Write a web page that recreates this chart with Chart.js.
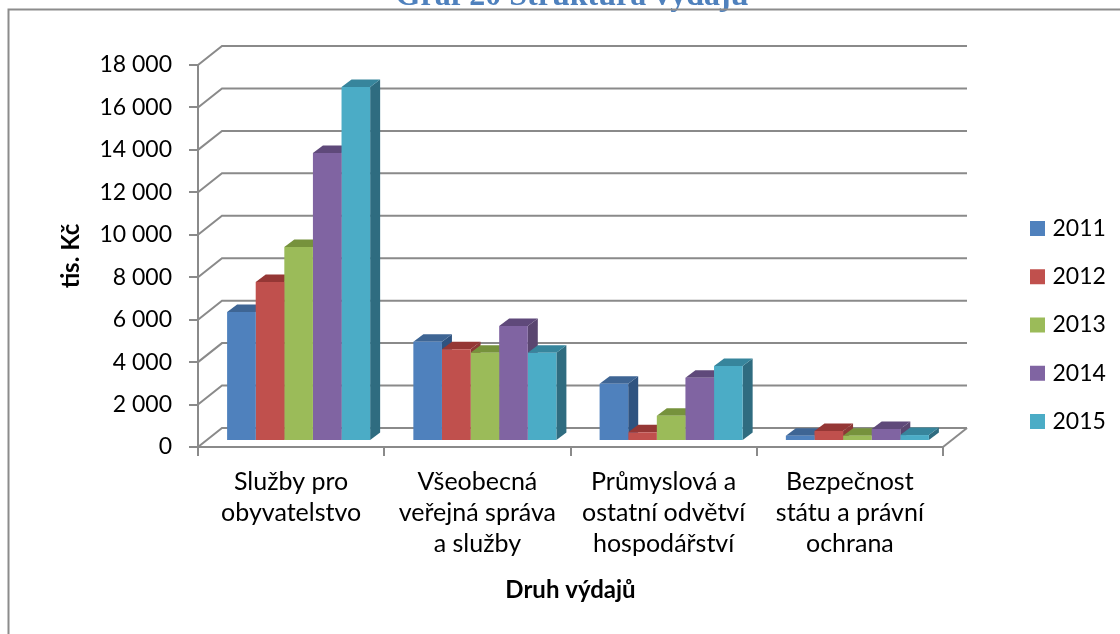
<!DOCTYPE html>
<html lang="cs">
<head>
<meta charset="utf-8">
<title>Graf 20 Struktura výdajů</title>
<script src="https://cdn.jsdelivr.net/npm/chart.js@4"></script>
<style>
html,body{margin:0;padding:0;background:#fff;overflow:hidden}
canvas{display:block}
</style>
</head>
<body>
<canvas id="c" width="1120" height="634"></canvas>
<script>
const categories = [
  ['Služby pro', 'obyvatelstvo'],
  ['Všeobecná', 'veřejná správa', 'a služby'],
  ['Průmyslová a', 'ostatní odvětví', 'hospodářství'],
  ['Bezpečnost', 'státu a právní', 'ochrana']
];
const years = ['2011', '2012', '2013', '2014', '2015'];
const values2011 = [6080, 4680, 2700, 250];
const values2012 = [7490, 4320, 410, 470];
const values2013 = [9140, 4160, 1190, 250];
const values2014 = [13570, 5420, 2980, 565];
const values2015 = [16680, 4160, 3530, 280];
const frontColors = ['#4F81BD', '#C0504D', '#9BBB59', '#8064A2', '#4BACC6'];
const sideColors = ['#2F5380', '#8C3836', '#6F8840', '#5A4670', '#2F6C80'];
const topColors = ['#3E6594', '#953735', '#76923C', '#5F497A', '#37859C'];

const FONT = 'Lato, "Open Sans", sans-serif';
const GRID = '#8a8a8a';
const series = [values2011, values2012, values2013, values2014, values2015];

const wall = {dx: 24, dy: -19};
const barShift = {dx: 7.5, dy: -6};
const barDepth = {dx: 10, dy: -7.5};

const box3d = {
  id: 'box3d',
  beforeLayout(chart) {
    const l = chart.legend;
    if (!l._fitWrapped) {
      const fit = l.fit;
      l.fit = function () { fit.call(this); this.width = 177; };
      l._fitWrapped = true;
    }
  },
  afterLayout(chart) {
    const l = chart.legend;
    l.left = 1034 - 25.25; l.right = l.left + 177;
    l.top += 8; l.bottom += 8;
    const t = chart.titleBlock;
    t.top = -19; t.left = 12; t.right = 1132;
  },
  beforeDatasetsDraw(chart) {
    const {ctx, scales: {x, y}} = chart;
    const L = x.left, R = x.right;
    ctx.save();
    ctx.strokeStyle = GRID;
    ctx.lineWidth = 2;
    y.ticks.forEach(t => {
      const py = y.getPixelForValue(t.value);
      ctx.beginPath();
      ctx.moveTo(L, py);
      ctx.lineTo(L + wall.dx, py + wall.dy);
      ctx.lineTo(R + wall.dx, py + wall.dy);
      ctx.stroke();
    });
    const y0 = y.getPixelForValue(0);
    ctx.beginPath();
    ctx.moveTo(R, y0);
    ctx.lineTo(R + wall.dx, y0 + wall.dy);
    ctx.stroke();
    ctx.restore();

    ctx.save();
    ctx.translate(barShift.dx, barShift.dy);
    // depth faces first, left to right; the library's bars then go on top
    chart.data.datasets.forEach((ds, i) => {
      chart.getDatasetMeta(i).data.forEach(b => {
        const l = b.x - b.width / 2, r = b.x + b.width / 2;
        ctx.fillStyle = sideColors[i];
        ctx.beginPath();
        ctx.moveTo(r, b.y);
        ctx.lineTo(r + barDepth.dx, b.y + barDepth.dy);
        ctx.lineTo(r + barDepth.dx, b.base + barDepth.dy);
        ctx.lineTo(r, b.base);
        ctx.closePath();
        ctx.fill();
        ctx.fillStyle = topColors[i];
        ctx.beginPath();
        ctx.moveTo(l, b.y);
        ctx.lineTo(l + barDepth.dx, b.y + barDepth.dy);
        ctx.lineTo(r + barDepth.dx, b.y + barDepth.dy);
        ctx.lineTo(r, b.y);
        ctx.closePath();
        ctx.fill();
      });
    });
  },
  afterDatasetsDraw(chart) {
    chart.ctx.restore();
  },
  afterDraw(chart) {
    const {ctx} = chart;
    ctx.save();
    ctx.strokeStyle = '#8c8c8c';
    ctx.lineWidth = 2;
    ctx.beginPath();
    ctx.moveTo(8.5, 634);
    ctx.lineTo(8.5, 9.5);
    ctx.lineTo(1120, 9.5);
    ctx.stroke();
    ctx.restore();
  }
};

new Chart(document.getElementById('c'), {
  type: 'bar',
  plugins: [box3d],
  data: {
    labels: categories,
    datasets: years.map((year, i) => ({
      label: year,
      data: series[i],
      backgroundColor: frontColors[i],
      borderWidth: 0,
      categoryPercentage: 0.768,
      barPercentage: 1,
      clip: false
    }))
  },
  options: {
    responsive: false,
    animation: false,
    layout: {padding: 0},
    plugins: {
      tooltip: {enabled: false},
      title: {
        display: true,
        text: 'Graf 20 Struktura výdajů',
        color: '#4F81BD',
        font: {family: '"Liberation Serif", serif', size: 32, weight: 'bold', lineHeight: 1},
        padding: {top: 0, bottom: 33}
      },
      legend: {
        position: 'right',
        labels: {
          color: '#000',
          font: {family: FONT, size: 23},
          boxWidth: 7,
          boxHeight: 7,
          padding: 25.25,
          generateLabels(chart) {
            return Chart.defaults.plugins.legend.labels.generateLabels(chart)
              .map(it => ({...it, strokeStyle: it.fillStyle, lineWidth: 8}));
          }
        }
      }
    },
    scales: {
      x: {
        afterFit(s) { s.height = 187; },
        border: {color: GRID, width: 2},
        grid: {drawOnChartArea: false, color: GRID, lineWidth: 2, tickLength: 9},
        ticks: {
          color: '#000',
          autoSkip: false,
          maxRotation: 0,
          padding: 10,
          font: {family: FONT, size: 25, lineHeight: 1.25}
        },
        title: {
          display: true,
          text: 'Druh výdajů',
          color: '#000',
          font: {family: FONT, size: 24, weight: 'bold'},
          padding: {top: 0, bottom: 29}
        }
      },
      y: {
        min: 0,
        max: 18000,
        afterFit(s) { s.width = 198; },
        border: {color: GRID, width: 2},
        grid: {drawOnChartArea: false, color: GRID, lineWidth: 2, tickLength: 9},
        ticks: {
          color: '#000',
          stepSize: 2000,
          padding: 17,
          font: {family: FONT, size: 23},
          callback: v => String(v).replace(/\B(?=(\d{3})+$)/g, ' ')
        },
        title: {
          display: true,
          text: 'tis. Kč',
          color: '#000',
          font: {family: FONT, size: 24, weight: 'bold'},
          padding: {top: 57, bottom: 0}
        }
      }
    }
  }
});
</script>
</body>
</html>
